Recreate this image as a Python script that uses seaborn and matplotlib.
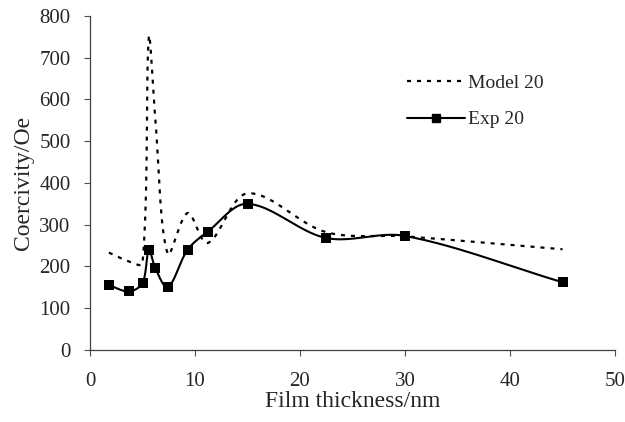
import numpy as np
import matplotlib
matplotlib.use("Agg")
import matplotlib.pyplot as plt
from matplotlib.lines import Line2D
import seaborn as sns

# ── Data ──────────────────────────────────────────────────────────────────────
thickness        = [1.8, 3.7, 5.0, 5.6, 6.2, 7.4, 9.3, 11.2, 15.0, 22.5, 30.0, 45.0]
exp_coercivity   = [155, 140, 160, 240, 197, 150, 240, 283, 350, 268, 273, 162]
model_coercivity = [233, 212, 207, 750, 560, 230, 328, 256, 375, 282, 272, 241]

X_TICKS = [0, 10, 20, 30, 40, 50]
Y_TICKS = [0, 100, 200, 300, 400, 500, 600, 700, 800]

# ── Helpers ───────────────────────────────────────────────────────────────────

def smooth(xs, ys, sx=525 / 50, sy=334 / 800, n=40):
    """Excel-like smoothed line: cubic Bezier segments with control points
    weighted by neighbouring segment lengths (screen space)."""
    p = np.column_stack([np.asarray(xs, float) * sx, np.asarray(ys, float) * sy])
    q = np.vstack([p[0], p, p[-1]])
    t = np.linspace(0, 1, n, endpoint=False)[:, None]
    out = []
    for i in range(1, len(q) - 2):
        p0, p1, p2, p3 = q[i - 1], q[i], q[i + 1], q[i + 2]
        d01 = np.linalg.norm(p1 - p0)
        d12 = np.linalg.norm(p2 - p1)
        d23 = np.linalg.norm(p3 - p2)
        c1 = p1 + (p2 - p0) * d12 / (d01 + d12) / 3
        c2 = p2 - (p3 - p1) * d12 / (d12 + d23) / 3
        seg = ((1 - t) ** 3 * p1 + 3 * (1 - t) ** 2 * t * c1
               + 3 * (1 - t) * t ** 2 * c2 + t ** 3 * p2)
        out.append(seg)
    out.append(p[-1][None, :])
    out = np.vstack(out)
    return out[:, 0] / sx, out[:, 1] / sy

# ── Plot ──────────────────────────────────────────────────────────────────────

sns.set_style("white")
plt.rcParams["font.family"] = ["Liberation Serif", "DejaVu Serif"]

fig, ax = plt.subplots(figsize=(6.25, 4.22), dpi=100)
fig.subplots_adjust(left=0.144, right=0.984, bottom=0.171, top=0.962)

DOT = (0, (1.8, 2.7))

mx, my = smooth(thickness, model_coercivity)
sns.lineplot(x=mx, y=my, sort=False, estimator=None, ax=ax,
             color="black", lw=1.6, linestyle=DOT)

ex, ey = smooth(thickness, exp_coercivity)
sns.lineplot(x=ex, y=ey, sort=False, estimator=None, ax=ax,
             color="black", lw=1.5)
sns.scatterplot(x=thickness, y=exp_coercivity, ax=ax, marker="s", s=60,
                color="black", edgecolor="black", linewidth=0, zorder=5)

ax.set_xlim(0, 50)
ax.set_ylim(0, 800)
ax.set_xticks(X_TICKS)
ax.set_yticks(Y_TICKS)
ax.tick_params(axis="both", bottom=True, left=True, direction="out",
               length=4, width=0.8, color="#505050", labelsize=15)
ax.tick_params(axis="x", pad=12)
ax.tick_params(axis="y", pad=10)
for side in ["top", "right"]:
    ax.spines[side].set_visible(False)
for side in ["left", "bottom"]:
    ax.spines[side].set_color("#404040")
    ax.spines[side].set_linewidth(0.9)

ax.set_xlabel("Film thickness/nm", fontsize=17, labelpad=0)
ax.set_ylabel("Coercivity/Oe", fontsize=17, labelpad=4)

handles = [
    Line2D([], [], color="black", lw=1.6, linestyle=DOT),
    Line2D([], [], color="black", lw=1.5, marker="s", markersize=6),
]
ax.legend(handles, ["Model 20", "Exp 20"], loc="center left",
          bbox_to_anchor=(0.604, 0.744), frameon=False, fontsize=14,
          handlelength=3.0, handletextpad=0.15, labelspacing=0.95,
          borderpad=0, borderaxespad=0)

plt.savefig("out.png", dpi=100)
plt.close()
